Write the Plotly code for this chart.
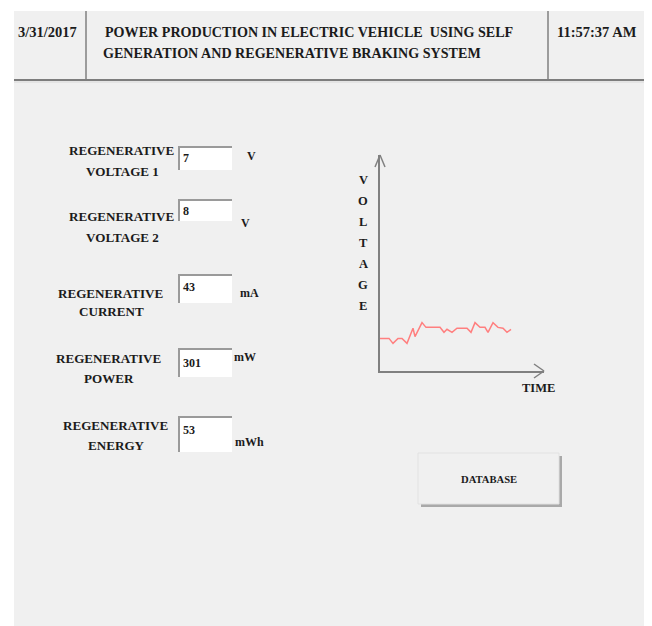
import plotly.graph_objects as go

# page body adds an 8px margin: figure is placed at (8, 8)
OX, OY = 8, 8
W, H = 652 - OX, 626 - OY

# ---------------- data ----------------
date_text = "3/31/2017"
time_text = "11:57:37 AM"
title_lines = ["POWER PRODUCTION IN ELECTRIC VEHICLE  USING SELF",
               "GENERATION AND REGENERATIVE BRAKING SYSTEM"]

field_line1 = ["REGENERATIVE", "REGENERATIVE", "REGENERATIVE", "REGENERATIVE", "REGENERATIVE"]
field_line2 = ["VOLTAGE 1", "VOLTAGE 2", "CURRENT", "POWER", "ENERGY"]
field_values = ["7", "8", "43", "301", "53"]
field_units = ["V", "V", "mA", "mW", "mWh"]

time_points = [0, 9, 13, 18, 22, 27, 33, 35, 42, 46, 60, 64, 67, 72, 77, 87,
               91, 95, 100, 105, 108, 113, 118, 123, 127, 131]
voltage_points = [1.51, 1.51, 1.28, 1.51, 1.51, 1.28, 1.98, 1.59, 2.24, 2.02,
                  2.02, 1.79, 1.93, 1.79, 1.98, 1.98, 1.79, 2.24, 2.02, 2.02,
                  1.79, 2.24, 2.02, 1.98, 1.79, 1.93]
y_axis_title = "VOLTAGE"
x_axis_title = "TIME"
button_text = "DATABASE"

# ---------------- helpers (page pixel -> paper) ----------------
def px(x):
    return (x - OX) / W

def py(y):
    return 1 - (y - OY) / H

FONT = "Liberation Serif"
TXT = "#1b1b1b"
BG = "#f0f0f0"

shapes = []
annotations = []

def rect(x0, y0, x1, y1, fill, line_color=None, lw=0):
    shapes.append(dict(type="rect", xref="paper", yref="paper",
                       x0=px(x0), x1=px(x1), y0=py(y1), y1=py(y0),
                       fillcolor=fill, line=dict(color=line_color or fill, width=lw),
                       layer="below"))

def line(x0, y0, x1, y1, color, width, layer="below"):
    shapes.append(dict(type="line", xref="paper", yref="paper",
                       x0=px(x0), x1=px(x1), y0=py(y0), y1=py(y1),
                       line=dict(color=color, width=width), layer=layer))

def text(t, x, y, size, xanchor="center", yanchor="middle"):
    annotations.append(dict(text="<b>" + t + "</b>", xref="paper", yref="paper",
                            x=px(x), y=py(y), xanchor=xanchor, yanchor=yanchor,
                            showarrow=False, font=dict(family=FONT, size=size, color=TXT)))

# panel background
rect(14, 11, 647, 630, BG)
# header dividers
line(14, 80, 647, 80, "#7d7d7d", 2)
line(14, 82, 647, 82, "#d8d8d8", 1)
line(86, 11, 86, 80, "#808080", 1.5)
line(548, 11, 548, 80, "#808080", 1.5)
# right border
line(647.5, 11, 647.5, 630, "#a8a8a8", 3)

# header texts
text(date_text, 16, 32, 14.5, xanchor="left")
text(title_lines[0], 103, 32, 14.1, xanchor="left")
text(title_lines[1], 101, 53, 14.1, xanchor="left")
text(time_text, 555, 32, 14.5, xanchor="left")

# form rows (layout positions)
label_cx = [122, 122, 111, 109, 116]
label_y1 = [150, 216, 293, 358, 425]
label_y2 = [171, 237, 312, 378, 445]
box_y0 = [146, 199, 274, 348, 416]
box_y1 = [170, 221, 303, 377, 452]
val_y = [158, 211, 287, 363, 430]
unit_x = [245, 239, 238, 232, 233]
unit_y = [156, 223, 293, 357, 442]

for i in range(len(field_values)):
    text(field_line1[i], label_cx[i], label_y1[i], 13.1)
    text(field_line2[i], label_cx[i], label_y2[i], 13.1)
    rect(178, box_y0[i], 232, box_y1[i], "#ffffff")
    line(178, box_y0[i] + 1, 232, box_y0[i] + 1, "#9a9a9a", 2)
    line(179, box_y0[i], 179, box_y1[i], "#9a9a9a", 2)
    text(field_values[i], 181, val_y[i], 12, xanchor="left")
    text(field_units[i], unit_x[i], unit_y[i], 12, xanchor="left")

# database button
rect(421, 456, 562, 507, "#a9a9a9")
rect(418, 453, 559, 504, "#f0f0f0", "#e2e2e2", 1)
text(button_text, 489, 479, 10.6)

# chart arrowheads
line(380, 155, 375, 167, "#808080", 1.5)
line(380, 155, 385, 167, "#808080", 1.5)
line(544, 371, 534, 364, "#808080", 1.5)
line(544, 371, 534, 378, "#808080", 1.5)

# axis titles
for k, ch in enumerate(y_axis_title):
    text(ch, 363, 180 + k * 21, 12.5)
text(x_axis_title, 538, 388, 12.5)

fig = go.Figure()
fig.add_trace(go.Scatter(x=time_points, y=voltage_points, mode="lines",
                         line=dict(color="#ff7f7f", width=1.5),
                         hoverinfo="skip", showlegend=False))

fig.update_layout(
    width=W, height=H,
    margin=dict(l=0, r=0, t=0, b=0),
    paper_bgcolor="#ffffff",
    plot_bgcolor="rgba(0,0,0,0)",
    shapes=shapes,
    annotations=annotations,
    showlegend=False,
    xaxis=dict(domain=[px(380), px(544)], range=[0, 164], showline=True,
               linecolor="#808080", linewidth=1.5, showgrid=False, zeroline=False,
               showticklabels=False, ticks="", fixedrange=True),
    yaxis=dict(domain=[py(371), py(155)], range=[0, 10], showline=True,
               linecolor="#808080", linewidth=1.5, showgrid=False, zeroline=False,
               showticklabels=False, ticks="", fixedrange=True),
)

fig.write_html("out.html")
